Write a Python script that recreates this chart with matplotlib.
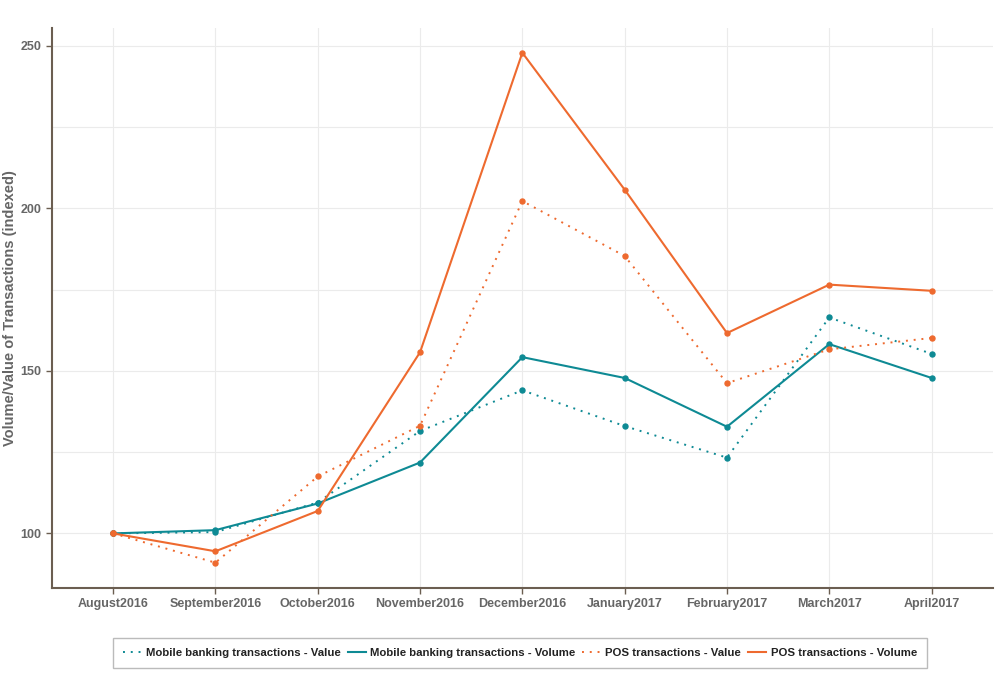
import matplotlib
matplotlib.use("Agg")
import matplotlib.pyplot as plt

months = ["August2016", "September2016", "October2016", "November2016", "December2016",
          "January2017", "February2017", "March2017", "April2017"]
mobile_value = [100, 100.4, 109.5, 131.5, 144.0, 133.0, 123.3, 166.4, 155.2]
mobile_volume = [100, 101.0, 109.2, 121.8, 154.2, 147.8, 132.8, 158.2, 147.8]
pos_value = [100, 91.0, 117.5, 133.1, 202.2, 185.3, 146.2, 156.6, 160.1]
pos_volume = [100, 94.5, 106.9, 155.7, 247.8, 205.7, 161.6, 176.5, 174.6]
yticks = [100, 150, 200, 250]

teal = "#0E8A94"
orange = "#EE6A2F"
axis_col = "#6B5E51"
text_col = "#666666"

plt.rcParams['font.family'] = ['Liberation Sans', 'DejaVu Sans']

fig = plt.figure(figsize=(10, 6.76), dpi=100)
ax = fig.add_axes([0.0517, 0.1306, 0.9413, 0.8284])
x = list(range(len(months)))

ax.plot(x, mobile_value, color=teal, lw=1.4, ls=(0, (1, 3)), marker='o', ms=3.6,
        label="Mobile banking transactions - Value")
ax.plot(x, mobile_volume, color=teal, lw=1.5, ls='-', marker='o', ms=3.6,
        label="Mobile banking transactions - Volume")
ax.plot(x, pos_value, color=orange, lw=1.4, ls=(0, (1, 3)), marker='o', ms=3.6,
        label="POS transactions - Value")
ax.plot(x, pos_volume, color=orange, lw=1.5, ls='-', marker='o', ms=3.6,
        label="POS transactions - Volume")

ax.set_xlim(-0.6, 8.6)
ax.set_ylim(83.3, 255.5)
ax.set_xticks(x)
ax.set_xticklabels(months, fontsize=9, fontweight='bold', color=text_col)
ax.set_yticks(yticks)
ax.set_yticks([125, 175, 225], minor=True)
ax.set_yticklabels([str(v) for v in yticks], fontsize=9, fontweight='bold', color=text_col)
ax.grid(True, which='both', color='#EBEBEB', lw=0.8)
ax.set_axisbelow(True)
for s in ['top', 'right']:
    ax.spines[s].set_visible(False)
for s in ['left', 'bottom']:
    ax.spines[s].set_color(axis_col)
    ax.spines[s].set_linewidth(1.5)
ax.tick_params(axis='both', which='major', color=axis_col, length=4, width=1)
ax.tick_params(axis='y', which='minor', length=0)
ax.set_ylabel("Volume/Value of Transactions (indexed)", fontsize=10.5, fontweight='bold',
              color=text_col)
ax.yaxis.set_label_coords(-0.037, 0.5)

leg = fig.legend(loc='center', bbox_to_anchor=(0.52, 0.034), ncol=4, frameon=True,
                 fancybox=False, edgecolor='#AAAAAA',
                 prop={'weight': 'bold', 'size': 8.2}, handlelength=1.6,
                 handletextpad=0.4, columnspacing=0.6, borderpad=0.9)
for t in leg.get_texts():
    t.set_color('#222222')
for h in leg.get_lines():
    h.set_marker('')

fig.savefig("out.png", dpi=100)
